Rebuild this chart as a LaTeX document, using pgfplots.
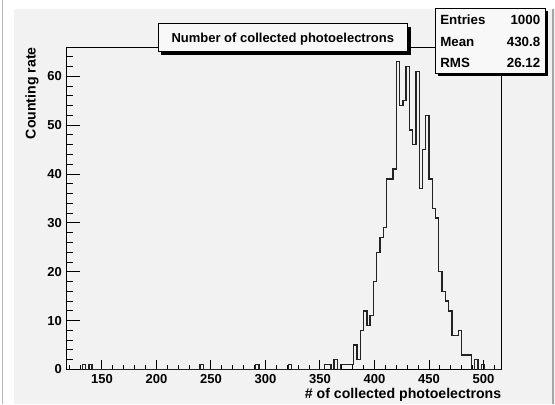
\documentclass[border=0pt]{standalone}
\usepackage{fontspec}
\setmainfont{Liberation Sans}
\usepackage{pgfplots}
\pgfplotsset{compat=1.18}
\definecolor{padbg}{RGB}{242,242,242}
\definecolor{histc}{RGB}{35,35,35}
\definecolor{boxbg}{RGB}{248,248,248}
\begin{document}
\begin{tikzpicture}
\begin{scope}[x=0.75pt,y=0.75pt]
\useasboundingbox (0,0) rectangle (555,404);
\fill[white] (0,0) rectangle (555,404);
\fill[padbg] (14,0) rectangle (555,395);
\draw[gray!55, line width=1pt] (2.5,0) -- (2.5,404);
\draw[gray!70, line width=0.8pt] (553,0) -- (553,395);
\end{scope}
\begin{axis}[
  at={(49.875pt,25.875pt)}, anchor=south west,
  scale only axis, width=326.25pt, height=241.875pt,
  xmin=117.5, xmax=516.5, ymin=0, ymax=66,
  xtick={150,200,...,500}, minor xtick={120,130,...,510},
  ytick={0,10,20,30,40,50,60}, minor ytick={2,4,6,8,12,14,16,18,22,24,26,28,32,34,36,38,42,44,46,48,52,54,56,58,62,64},
  xtick pos=left, ytick pos=left, tick align=inside,
  major tick length=7.5pt, minor tick length=3.75pt,
  every tick/.style={black, line width=0.75pt},
  axis line style={black, line width=0.75pt},
  /pgf/number format/assume math mode=true,
  tick label style={font=\fontsize{9.75pt}{11pt}\selectfont\bfseries},
  xlabel={\# of collected photoelectrons},
  ylabel={Counting rate},
  label style={font=\fontsize{10.6pt}{12pt}\selectfont\bfseries},
  xlabel style={at={(axis description cs:1,0)}, anchor=north east, inner sep=0pt, yshift=-13.9pt},
  ylabel style={at={(axis description cs:-0.0632,1)}, anchor=south east, inner sep=0pt},
]
\addplot[const plot, histc, line width=1pt, mark=none] coordinates {
(120,0) (132,1) (135,0) (138,1) (141,0) (240,1) (243,0) (291,1) (294,0)
(321,1) (324,0) (354,1) (357,1) (360,0) (363,2) (366,0)
(369,1) (372,1) (375,1) (378,1) (381,5) (384,2) (387,8) (390,12) (393,9) (396,11)
(399,18) (402,24) (405,27) (408,29) (411,39) (414,39) (417,41) (420,63) (423,54)
(426,55) (429,62) (432,49) (435,46) (438,61) (441,37) (444,45) (447,52) (450,39)
(453,33) (456,31) (459,20) (462,16) (465,14) (468,12) (471,7) (474,7) (477,8)
(480,3) (483,3) (486,3) (489,0) (492,2) (495,0) (498,1) (501,0) (516,0)
};
\pgfplotsinvokeforeach{0,10,20,30,40,50,60}{
  \draw[black, line width=0.75pt] (axis cs:117.5,#1) -- ++(9.75pt,0pt);
}
\pgfplotsinvokeforeach{2,4,6,8,12,14,16,18,22,24,26,28,32,34,36,38,42,44,46,48,52,54,56,58,62,64}{
  \draw[black, line width=0.75pt] (axis cs:117.5,#1) -- ++(4.9pt,0pt);
}
\end{axis}
\begin{scope}[x=0.75pt,y=0.75pt]
% title box
\fill[black] (161,349) rectangle (410.5,377);
\filldraw[fill=boxbg, draw=black, line width=0.75pt] (158,352) rectangle (407.5,380);
\node[font=\fontsize{9.75pt}{11pt}\selectfont\bfseries, anchor=base, inner sep=0pt] at (282.75,361.7) {Number of collected photoelectrons};
% stats box
\fill[black] (437.5,327.5) rectangle (547.5,393.2);
\filldraw[fill=boxbg, draw=black, line width=0.75pt] (435,330) rectangle (545,395.7);
\begin{scope}[every node/.style={font=\fontsize{10pt}{12pt}\selectfont\bfseries, inner sep=0pt}]
\node[anchor=base west] at (440,379.8) {Entries};
\node[anchor=base east] at (540.5,379.8) {1000};
\node[anchor=base west] at (440,357.4) {Mean};
\node[anchor=base east] at (540.5,357.4) {430.8};
\node[anchor=base west] at (440,336.4) {RMS};
\node[anchor=base east] at (540.5,336.4) {26.12};
\end{scope}
\end{scope}
\end{tikzpicture}
\end{document}
